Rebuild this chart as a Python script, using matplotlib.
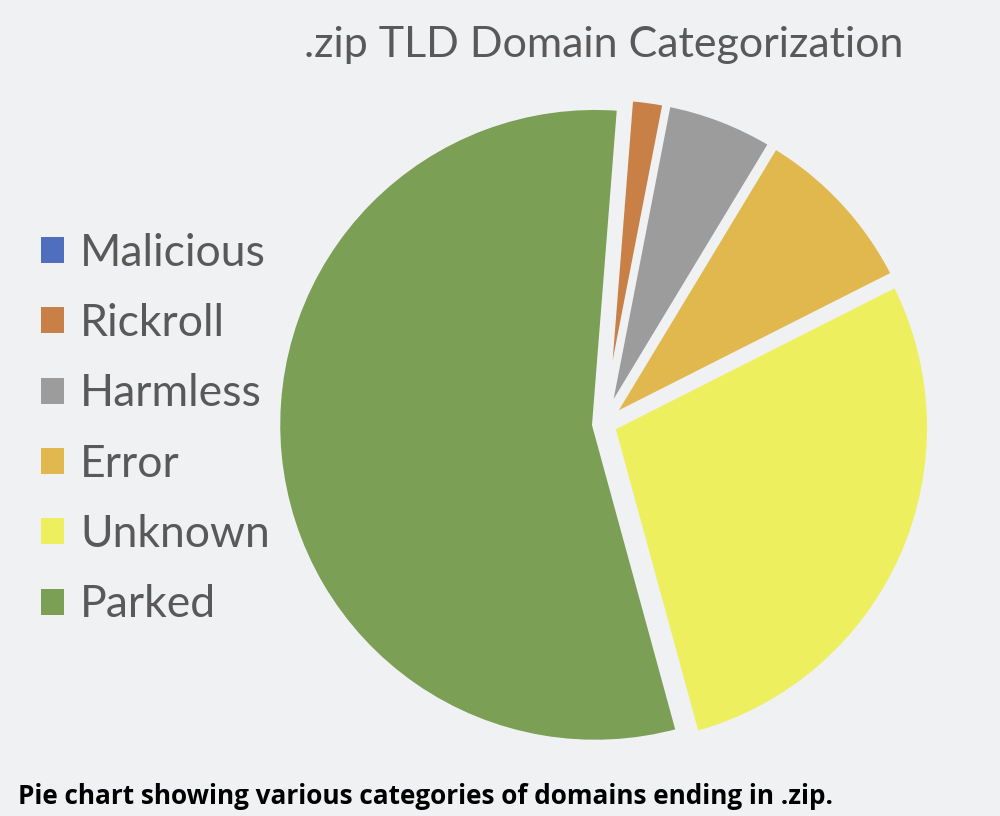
import matplotlib.pyplot as plt
import matplotlib.patches as mpatches

categories = ["Malicious", "Rickroll", "Harmless", "Error", "Unknown", "Parked"]
shares = [0.0, 1.8, 5.6, 8.9, 28.2, 55.5]
colors = ["#4F6FBE", "#C98046", "#9C9C9C", "#E1B84E", "#EEEF5E", "#7B9F54"]

bg = "#F0F1F3"
plt.rcParams["font.family"] = ["Open Sans", "DejaVu Sans"]

fig = plt.figure(figsize=(10, 8.16), dpi=100, facecolor=bg)

# pie centred at about (604, 424) px, radius ~318 px
cx, cy, r_px, lim = 604, 424, 318, 1.1
side = 2 * r_px * lim
ax = fig.add_axes([(cx - side / 2) / 1000, (816 - cy - side / 2) / 816,
                   side / 1000, side / 816])
ax.set_facecolor(bg)

wedges, _ = ax.pie(shares, colors=colors, startangle=85.5, counterclock=False,
                   explode=[0.028] * len(shares),
                   wedgeprops=dict(edgecolor=bg, linewidth=4.5))
ax.set_xlim(-lim, lim)
ax.set_ylim(-lim, lim)
ax.set_aspect("equal")
ax.axis("off")

fig.text(0.604, 1 - 45 / 816, ".zip TLD Domain Categorization", ha="center", va="center",
         fontsize=31, color="#595959", family=["Lato", "DejaVu Sans"])

handles = [mpatches.Patch(facecolor=c, edgecolor="none") for c in colors]
fig.legend(handles, categories, loc="center left", bbox_to_anchor=(0.001, 1 - 429 / 816),
           frameon=False, labelcolor="#595959",
           handlelength=0.52, handleheight=0.52, handletextpad=0.36,
           labelspacing=0.66, prop={"family": ["Lato", "DejaVu Sans"], "size": 32})

fig.text(0.018, 1 - 797 / 816, "Pie chart showing various categories of domains ending in .zip.",
         ha="left", va="center", fontsize=18.8, fontweight="bold", color="black")

fig.savefig("out.png", dpi=100, facecolor=bg)
